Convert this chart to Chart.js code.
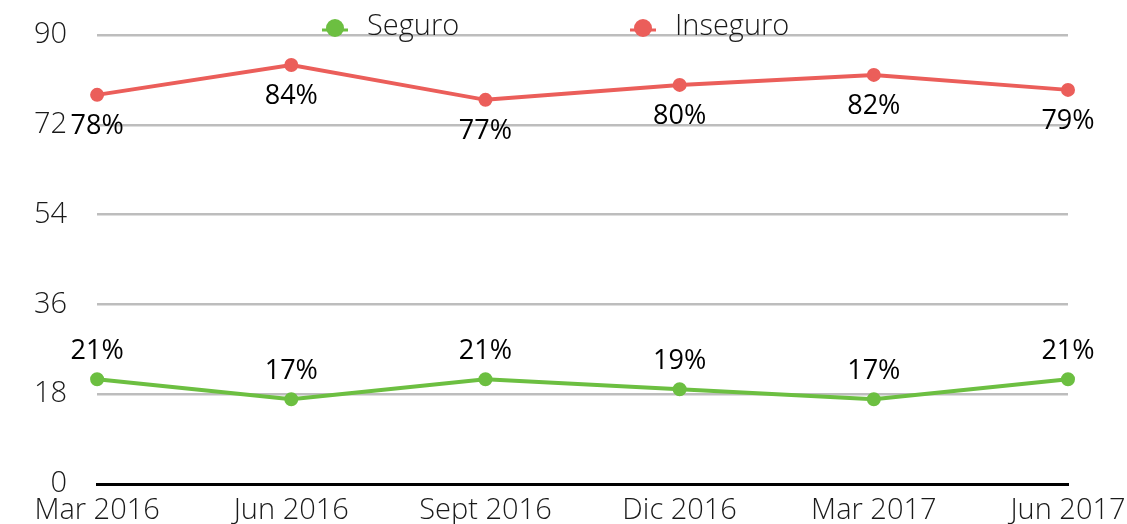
<!DOCTYPE html>
<html>
<head>
<meta charset="utf-8">
<script src="https://cdn.jsdelivr.net/npm/chart.js@4/dist/chart.umd.min.js"></script>
<style>
  html, body { margin: 0; padding: 0; background: #fff; }
  #wrap { width: 1127px; height: 524px; position: relative; }
</style>
</head>
<body>
<div id="wrap"><canvas id="grafico"></canvas></div>
<script>
// datos
var periodos = ["Mar 2016", "Jun 2016", "Sept 2016", "Dic 2016", "Mar 2017", "Jun 2017"];
var seguro = [21, 17, 21, 19, 17, 21];
var inseguro = [78, 84, 77, 80, 82, 79];
var ejeY = [0, 18, 36, 54, 72, 90];

var verde = "#6cbf41";
var rojo = "#eb5e5a";
var fuente = "'Open Sans'";

// etiquetas de datos (sin plugin externo)
var etiquetas = {
    id: "etiquetas",
    afterDatasetsDraw: function(chart) {
        let ctx = chart.ctx;
        ctx.save();
        ctx.font = "500 27px " + fuente;
        ctx.fillStyle = "#000";
        ctx.textAlign = "center";
        ctx.textBaseline = "middle";
        chart.data.datasets.forEach(function(ds, i) {
            let meta = chart.getDatasetMeta(i);
            let desplaz = ds.label == "Inseguro" ? 31 : -28;
            meta.data.forEach(function(pt, j) {
                ctx.fillText(ds.data[j] + "%", pt.x, pt.y + desplaz);
            });
        });
        ctx.restore();
    }
};

// leyenda encima de la primera linea de la rejilla, como en el original
var leyenda = {
    id: "leyenda",
    afterDraw: function(chart) {
        let ctx = chart.ctx;
        let posX = [335, 643];
        let y = 28;
        ctx.save();
        ctx.font = "300 29px " + fuente;
        ctx.textBaseline = "middle";
        ctx.textAlign = "left";
        chart.data.datasets.forEach(function(ds, i) {
            let x = posX[i];
            ctx.strokeStyle = ds.borderColor;
            ctx.lineWidth = 3;
            ctx.beginPath();
            ctx.moveTo(x - 13, y + 2);
            ctx.lineTo(x + 13, y + 2);
            ctx.stroke();
            ctx.fillStyle = ds.borderColor;
            ctx.beginPath();
            ctx.arc(x, y, 9, 0, Math.PI * 2);
            ctx.fill();
            ctx.fillStyle = "#1a1a1a";
            ctx.fillText(ds.label, x + 32, y - 1);
        });
        ctx.restore();
    }
};

let ctx = document.getElementById("grafico").getContext("2d");
var graficoChart = new Chart(ctx, {
    type: "line",
    data: {
        labels: periodos,
        datasets: [{
            label: "Seguro",
            data: seguro,
            borderColor: verde,
            backgroundColor: verde,
            borderWidth: 4,
            pointRadius: 5,
            pointHoverRadius: 5,
            tension: 0
        }, {
            label: "Inseguro",
            data: inseguro,
            borderColor: rojo,
            backgroundColor: rojo,
            borderWidth: 4,
            pointRadius: 5,
            pointHoverRadius: 5,
            tension: 0
        }]
    },
    options: {
        responsive: true,
        maintainAspectRatio: false,
        animation: false,
        layout: { padding: { left: 4, top: 35, right: 0, bottom: 0 } },
        plugins: {
            tooltip: { enabled: false },
            legend: { display: false }
        },
        scales: {
            x: {
                grid: { display: false, drawTicks: false },
                border: { display: true, color: "#000", width: 3 },
                ticks: {
                    color: "#1a1a1a",
                    padding: 9,
                    maxRotation: 0,
                    font: { family: fuente, size: 29, weight: 300 }
                },
                afterFit: function(axis) {
                    axis.paddingRight = 59;
                    axis.height = 40;
                }
            },
            y: {
                min: 0,
                max: 90,
                afterBuildTicks: function(axis) {
                    axis.ticks = ejeY.map(function(v) { return { value: v }; });
                },
                afterFit: function(axis) {
                    axis.paddingTop = 0;
                    axis.paddingBottom = 0;
                },
                grid: { color: "#bdbdbd", lineWidth: 2.5, drawTicks: false },
                border: { display: false },
                ticks: {
                    color: "#1a1a1a",
                    padding: 30,
                    font: { family: fuente, size: 29, weight: 300 }
                }
            }
        }
    },
    plugins: [etiquetas, leyenda]
});
</script>
</body>
</html>
